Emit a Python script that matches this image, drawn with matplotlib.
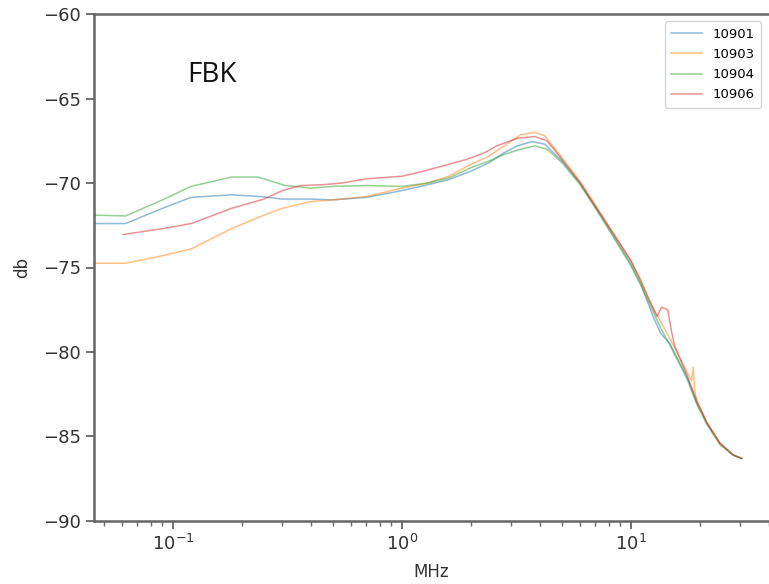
import matplotlib
matplotlib.use("Agg")
import matplotlib.pyplot as plt

# 10901
f_10901 = [0.045, 0.062, 0.09, 0.12, 0.18, 0.24, 0.3, 0.4, 0.5, 0.7, 1.0, 1.3, 1.6, 2.0, 2.4, 2.8,
           3.2, 3.7, 4.2, 5.0, 6.0, 7.0, 8.3, 10, 11, 12.5, 13.5, 14.8, 17.6, 19.4, 21.5, 24.5, 28, 30.5]
db_10901 = [-72.4, -72.4, -71.5, -70.85, -70.7, -70.8, -70.95, -70.95, -71.0, -70.85, -70.45, -70.1, -69.8,
            -69.3, -68.8, -68.2, -67.8, -67.55, -67.7, -68.7, -70.0, -71.4, -73.0, -74.8, -75.9, -77.9,
            -78.9, -79.5, -81.5, -83.0, -84.2, -85.4, -86.1, -86.3]

# 10903
f_10903 = [0.045, 0.062, 0.09, 0.12, 0.18, 0.25, 0.3, 0.4, 0.5, 0.7, 1.0, 1.3, 1.6, 2.0, 2.4, 2.8,
           3.3, 3.8, 4.2, 5.0, 6.0, 7.0, 8.3, 10, 11, 12.5, 13.5, 14.8, 17.6, 18.4, 18.7, 19.0, 19.4,
           21.5, 24.5, 28, 30.5]
db_10903 = [-74.75, -74.75, -74.3, -73.9, -72.7, -71.9, -71.5, -71.1, -71.0, -70.8, -70.3, -70.0, -69.6,
            -68.9, -68.4, -67.8, -67.15, -67.0, -67.2, -68.5, -69.9, -71.3, -72.9, -74.6, -75.8, -77.4,
            -78.2, -79.2, -81.2, -81.7, -80.9, -82.3, -82.9, -84.2, -85.4, -86.1, -86.3]

# 10904
f_10904 = [0.045, 0.062, 0.09, 0.12, 0.18, 0.235, 0.31, 0.4, 0.5, 0.7, 1.0, 1.3, 1.6, 2.0, 2.4, 2.8,
           3.3, 3.8, 4.3, 5.0, 6.0, 7.0, 8.3, 10, 11, 12.5, 13.5, 14.8, 17.6, 19.4, 21.5, 24.5, 28, 30.5]
db_10904 = [-71.9, -71.95, -71.0, -70.2, -69.65, -69.65, -70.15, -70.3, -70.2, -70.15, -70.2, -70.0,
            -69.7, -69.1, -68.7, -68.3, -68.0, -67.8, -68.0, -68.8, -70.1, -71.5, -73.1, -74.9, -76.0,
            -77.6, -78.6, -79.6, -81.6, -83.1, -84.3, -85.5, -86.1, -86.3]

# 10906
f_10906 = [0.0605, 0.09, 0.12, 0.18, 0.25, 0.3, 0.36, 0.45, 0.55, 0.7, 1.0, 1.16, 1.5, 1.92, 2.3, 2.6,
           3.2, 3.8, 4.3, 5.0, 6.0, 7.0, 8.3, 10, 11, 12.0, 13.0, 13.6, 14.5, 15.0, 15.5, 17.6, 19.4,
           21.5, 24.5, 28, 30.5]
db_10906 = [-73.05, -72.7, -72.4, -71.5, -70.95, -70.45, -70.15, -70.1, -70.0, -69.75, -69.6, -69.4,
            -69.0, -68.6, -68.2, -67.8, -67.35, -67.25, -67.5, -68.6, -70.0, -71.4, -72.9, -74.6, -75.7,
            -76.9, -77.9, -77.35, -77.5, -78.7, -79.6, -81.4, -82.9, -84.2, -85.4, -86.1, -86.3]

series = [("10901", f_10901, db_10901, "tab:blue"),
          ("10903", f_10903, db_10903, "tab:orange"),
          ("10904", f_10904, db_10904, "tab:green"),
          ("10906", f_10906, db_10906, "tab:red")]

fig = plt.figure(figsize=(7.69, 5.84), dpi=100)
ax = fig.add_axes([94 / 769, 1 - 521 / 584, 1 - 94 / 769, (521 - 14) / 584])

for name, f, db, color in series:
    ax.plot(f, db, color=color, alpha=0.5, lw=1.1, label=name)

ax.set_xscale("log")
ax.set_xlim(0.0452, 40.1)
ax.set_ylim(-90, -60)
ax.set_yticks([-90, -85, -80, -75, -70, -65, -60])

for side in ["top", "left", "bottom"]:
    ax.spines[side].set_color("#666666")
    ax.spines[side].set_linewidth(1.8)
ax.spines["right"].set_visible(False)
ax.tick_params(axis="both", which="both", colors="#666666", labelcolor="#333333", labelsize=13)
ax.tick_params(axis="both", which="major", length=6, width=1.3)
ax.tick_params(axis="x", which="minor", length=3.5, width=1)

ax.set_xlabel("MHz", fontsize=12, color="#333333", labelpad=6)
ax.set_ylabel("db", fontsize=12, color="#333333", labelpad=8)

ax.text(0.116, -63.6, "FBK", fontsize=20, family="Open Sans", va="center", ha="left", color="#111111")

leg = ax.legend(loc="upper right", fontsize=9.5, frameon=True, borderpad=0.5, handlelength=2.3,
                labelspacing=0.55, bbox_to_anchor=(0.988, 0.986), borderaxespad=0)
leg.get_frame().set_edgecolor("#cccccc")

fig.savefig("out.png", dpi=100)
